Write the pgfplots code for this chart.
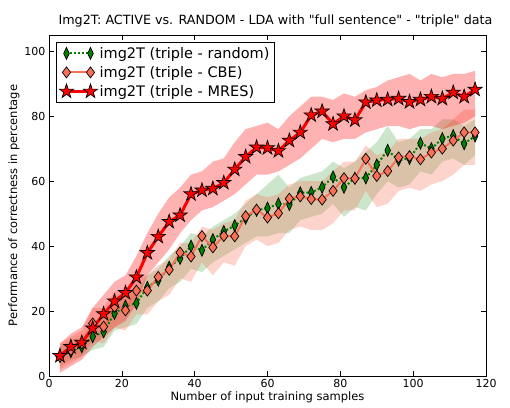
\documentclass[border=0pt]{standalone}
\usepackage{fontspec}
\setmainfont{DejaVu Sans}
\newfontfamily\dvplain{DejaVu Sans}
\usepackage{pgfplots}
\pgfplotsset{compat=1.18}
\usepackage{pgfplotstable}
\usepgfplotslibrary{fillbetween}

\definecolor{rndgreen}{RGB}{0,128,0}
\definecolor{cbe}{RGB}{250,112,86}
\definecolor{mres}{RGB}{255,0,0}

% filled five-pointed star, like matplotlib's '*'
\pgfdeclareplotmark{fstar}{%
  \pgfpathmoveto{\pgfpointpolar{90}{\pgfplotmarksize}}%
  \pgfpathlineto{\pgfpointpolar{126}{0.382\pgfplotmarksize}}%
  \pgfpathlineto{\pgfpointpolar{162}{\pgfplotmarksize}}%
  \pgfpathlineto{\pgfpointpolar{198}{0.382\pgfplotmarksize}}%
  \pgfpathlineto{\pgfpointpolar{234}{\pgfplotmarksize}}%
  \pgfpathlineto{\pgfpointpolar{270}{0.382\pgfplotmarksize}}%
  \pgfpathlineto{\pgfpointpolar{306}{\pgfplotmarksize}}%
  \pgfpathlineto{\pgfpointpolar{342}{0.382\pgfplotmarksize}}%
  \pgfpathlineto{\pgfpointpolar{18}{\pgfplotmarksize}}%
  \pgfpathlineto{\pgfpointpolar{54}{0.382\pgfplotmarksize}}%
  \pgfpathclose
  \pgfusepathqfillstroke
}

% random selection
\pgfplotstableread{
x mean lo hi
3 6.0 3 9
6 7.5 5 11
9 9.0 6 12
12 12.1 8 16
15 13.6 9 19
18 19.3 14 24
21 21.5 15 26
24 22.4 16 26
27 27.3 21 31
30 29.5 23 33
33 33.5 27 37
36 36.2 29 40
39 40.0 33 44
42 38.7 32 43
45 42.0 35 46
48 44.5 37 48
51 46.3 39 50
54 48.6 41 53
57 51.0 43 56
60 51.7 43 59
63 53.0 44 62
66 52.8 44 58
69 56.4 48 61
72 56.5 49 62
75 58.1 50 63
78 61.3 53 66
81 58.1 49 64
84 60.9 52 66
87 61.0 51 69
90 65.0 56 72
93 69.5 60 77
96 66.5 58 72
99 67.0 59 73
102 71.7 63 76
105 70.0 62 76
108 73.1 66 79
111 74.0 67 79
114 71.5 65 77
117 73.9 68 79
}\randomdata

% CBE
\pgfplotstableread{
x mean lo hi
3 6.0 2 10
6 8.0 4 12
9 10.0 6 14
12 16.2 11 21
15 15.2 10 21
18 21.3 15 26
21 20.2 14 26
24 26.3 19 30
27 26.3 19 31
30 30.5 23 34
33 32.7 25 36
36 38.0 30 41
39 36.8 29 41
42 43.1 35 46
45 39.6 31 45
48 43.1 35 47
51 43.0 34 48
54 49.2 40 54
57 51.2 42 56
60 48.8 40 55
63 50.1 41 56
66 54.6 45 59
69 55.3 46 60
72 54.5 45 60
75 54.3 45 60
78 57.0 47 63
81 60.9 51 66
84 60.8 51 66
87 66.9 57 71
90 61.6 52 68
93 63.1 53 69
96 67.3 57 73
99 67.7 58 73
102 66.7 57 73
105 68.8 59 75
108 70.0 60 76
111 72.5 62 79
114 75.0 65 82
117 75.0 65 82
}\cbedata

% MRES
\pgfplotstableread{
x mean lo hi
3 6.2 1 10
6 9.0 3 13
9 10.3 5 15
12 14.7 9 21
15 19.1 12 25
18 23.0 15 29
21 25.6 17 31
24 30.4 22 37
27 37.9 31 44
30 42.9 35 50
33 47.5 39 55
36 49.5 44 58
39 56.0 48 62
42 57.2 51 63
45 57.7 52 66
48 59.5 54 67
51 63.6 56 72
54 67.5 59 76
57 70.4 62 77
60 70.2 62 78
63 69.3 63 76
66 72.5 65 80
69 75.0 67 83
72 80.3 70 86
75 81.5 73 86
78 77.6 72 85
81 80.0 73 87
84 78.8 73 86
87 84.3 75 88
90 84.9 76 89
93 85.1 77 91
96 85.4 77 92
99 84.4 76 93
102 85.1 77 91
105 86.0 77 93
108 85.4 76 92
111 87.3 77 93
114 86.0 78 93
117 88.2 80 94
}\mresdata

\begin{document}
\begin{tikzpicture}
\begin{axis}[
    scale only axis,
    width=437pt,
    height=341pt,
    xmin=0, xmax=120,
    ymin=0, ymax=105,
    xtick={0,20,...,120},
    ytick={0,20,...,100},
    tick align=inside,
    major tick length=5pt,
    tick style={black, line width=0.6pt},
    axis line style={line width=0.8pt},
    /pgf/number format/assume math mode=true,
    ticklabel style={font=\fontsize{11}{13}\selectfont},
    xlabel={Number of input training samples},
    ylabel={Performance of correctness in percentage},
    label style={font=\fontsize{11.5}{13}\selectfont},
    xlabel style={yshift=3pt},
    ylabel style={yshift=-2pt},
    title={Img2T: ACTIVE vs. RANDOM - LDA with "full sentence" - "triple" data},
    title style={font=\dvplain\fontsize{12.7}{15}\selectfont, yshift=-2pt, xshift=8pt},
    legend style={at={(0.016,0.98)}, anchor=north west,
        font=\fontsize{14.5}{17}\selectfont, draw=black, line width=0.7pt,
        inner sep=3pt, row sep=2.5pt},
    legend cell align=left,
    legend image code/.code={\draw[#1] plot coordinates {(0pt,0pt) (24pt,0pt)};},
]
\coordinate (ll) at (rel axis cs:0,0);
\coordinate (ur) at (rel axis cs:1,1);

% shaded spread bands
\addplot[draw=none, name path=rhi, forget plot] table[x=x, y=hi] {\randomdata};
\addplot[draw=none, name path=rlo, forget plot] table[x=x, y=lo] {\randomdata};
\addplot[fill=rndgreen, fill opacity=0.2, draw=none, forget plot] fill between[of=rhi and rlo];

\addplot[draw=none, name path=chi, forget plot] table[x=x, y=hi] {\cbedata};
\addplot[draw=none, name path=clo, forget plot] table[x=x, y=lo] {\cbedata};
\addplot[fill=cbe, fill opacity=0.3, draw=none, forget plot] fill between[of=chi and clo];

\addplot[draw=none, name path=mhi, forget plot] table[x=x, y=hi] {\mresdata};
\addplot[draw=none, name path=mlo, forget plot] table[x=x, y=lo] {\mresdata};
\addplot[fill=mres, fill opacity=0.3, draw=none, forget plot] fill between[of=mhi and mlo];

% mean curves
\addplot[rndgreen, dotted, line width=2pt, mark=diamond*, mark size=6pt,
    mark options={solid, xscale=0.62, fill=rndgreen, draw=black, line width=0.7pt}]
    table[x=x, y=mean] {\randomdata};
\addlegendentry{img2T (triple - random)}

\addplot[cbe, line width=2pt, mark=diamond*, mark size=5.5pt,
    mark options={solid, fill=cbe, draw=black, line width=0.7pt}]
    table[x=x, y=mean] {\cbedata};
\addlegendentry{img2T (triple - CBE)}

\addplot[mres, line width=3pt, mark=fstar, mark size=7.5pt,
    mark options={solid, fill=mres, draw=black, line width=0.7pt}]
    table[x=x, y=mean] {\mresdata};
\addlegendentry{img2T (triple - MRES)}
\end{axis}
\pgfresetboundingbox
\path[use as bounding box] ([xshift=-49pt,yshift=-31pt]ll) rectangle ([xshift=24pt,yshift=35pt]ur);
\end{tikzpicture}
\end{document}
